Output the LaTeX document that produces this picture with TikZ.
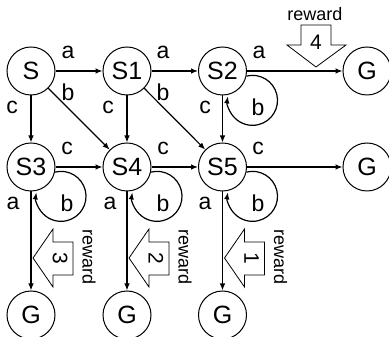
\documentclass[tikz,border=0pt]{standalone}
\usepackage{fontspec}
\setmainfont{Liberation Sans}
\usetikzlibrary{arrows.meta}
\begin{document}
\begin{tikzpicture}[x=1pt,y=1pt,
  st/.style={circle,draw,line width=1pt,minimum size=48pt,inner sep=0pt,font=\fontsize{25}{25}\selectfont},
  tr/.style={line width=1.2pt,-{Latex[length=7pt,width=5.5pt]}},
  lb/.style={font=\fontsize{23}{23}\selectfont,inner sep=0pt},
  blk/.style={draw,line width=0.8pt,fill=white},
  rw/.style={font=\fontsize{18}{18}\selectfont,inner sep=0pt},
  num/.style={font=\fontsize{21}{21}\selectfont,inner sep=0pt},
  selfloop/.style={tr}]
\useasboundingbox (0,0) rectangle (389,337);
% states
\node[st] (S)  at (31,266)   {S};
\node[st] (S1) at (127,266)  {S1};
\node[st] (S2) at (222.5,266) {S2};
\node[st] (G1) at (367,266)  {G};
\node[st] (S3) at (31,170)   {S3};
\node[st] (S4) at (127,170)  {S4};
\node[st] (S5) at (222.5,170) {S5};
\node[st] (G2) at (367,170)  {G};
\node[st] (G3) at (31,22)    {G};
\node[st] (G4) at (127,22)   {G};
\node[st] (G5) at (222.5,22) {G};
% transitions
\draw[tr] (S) -- (S1);
\draw[tr] (S) -- (S4);
\draw[tr] (S) -- (S3);
\draw[tr] (S1) -- (S2);
\draw[tr] (S1) -- (S5);
\draw[tr] (S1) -- (S4);
\draw[tr] (S2) -- (G1);
\draw[tr] (S2) -- (S5);
\draw[tr] (S3) -- (S4);
\draw[tr] (S4) -- (S5);
\draw[tr] (S5) -- (G2);
\draw[tr] (S3) -- (G3);
\draw[tr] (S4) -- (G4);
\draw[tr] (S5) -- (G5);
% self loops
\draw[selfloop] (S2.-12) arc[start angle=104,end angle=-189,radius=25pt];
\draw[selfloop] (S3.-12) arc[start angle=104,end angle=-189,radius=25pt];
\draw[selfloop] (S4.-12) arc[start angle=104,end angle=-189,radius=25pt];
\draw[selfloop] (S5.-12) arc[start angle=104,end angle=-189,radius=25pt];
% labels
\node[lb] (la1) at (68,285) {a};
\node[lb] (lb1) at (68,245) {b};
\node[lb] (lc1) at (12,230) {c};
\node[lb] (la2) at (163,285) {a};
\node[lb] (lb2) at (163,245) {b};
\node[lb] (lc2) at (108,230) {c};
\node[lb] (la3) at (259,285) {a};
\node[lb] (lc3) at (205,230) {c};
\node[lb] (lb3) at (258,230) {b};
\node[lb] (lc4) at (67,189) {c};
\node[lb] (lc5) at (163,189) {c};
\node[lb] (lc6) at (258,189) {c};
\node[lb] (la4) at (13,134) {a};
\node[lb] (lb4) at (67,134) {b};
\node[lb] (la5) at (110,134) {a};
\node[lb] (lb5) at (163,134) {b};
\node[lb] (la6) at (205,134) {a};
\node[lb] (lb6) at (258,134) {b};
% reward arrows
\draw[blk] (301,312) -- (331,312) -- (331,292) -- (346,292) -- (316,270) -- (287,292) -- (301,292) -- cycle;
\node[num] (n4) at (316,295) {4};
\node[rw] (r4) at (315,323) {reward};
\foreach \cx/\d in {31/3,127/2,222.5/1}{
  \draw[blk] (\cx+2,79) -- (\cx+22,108) -- (\cx+22,95) -- (\cx+42,95) -- (\cx+42,62) -- (\cx+22,62) -- (\cx+22,50) -- cycle;
  \node[num,rotate=-90] (n\d) at (\cx+29,79) {\d};
  \node[rw,rotate=-90] (r\d) at (\cx+58,80) {reward};
}
\end{tikzpicture}
\end{document}
